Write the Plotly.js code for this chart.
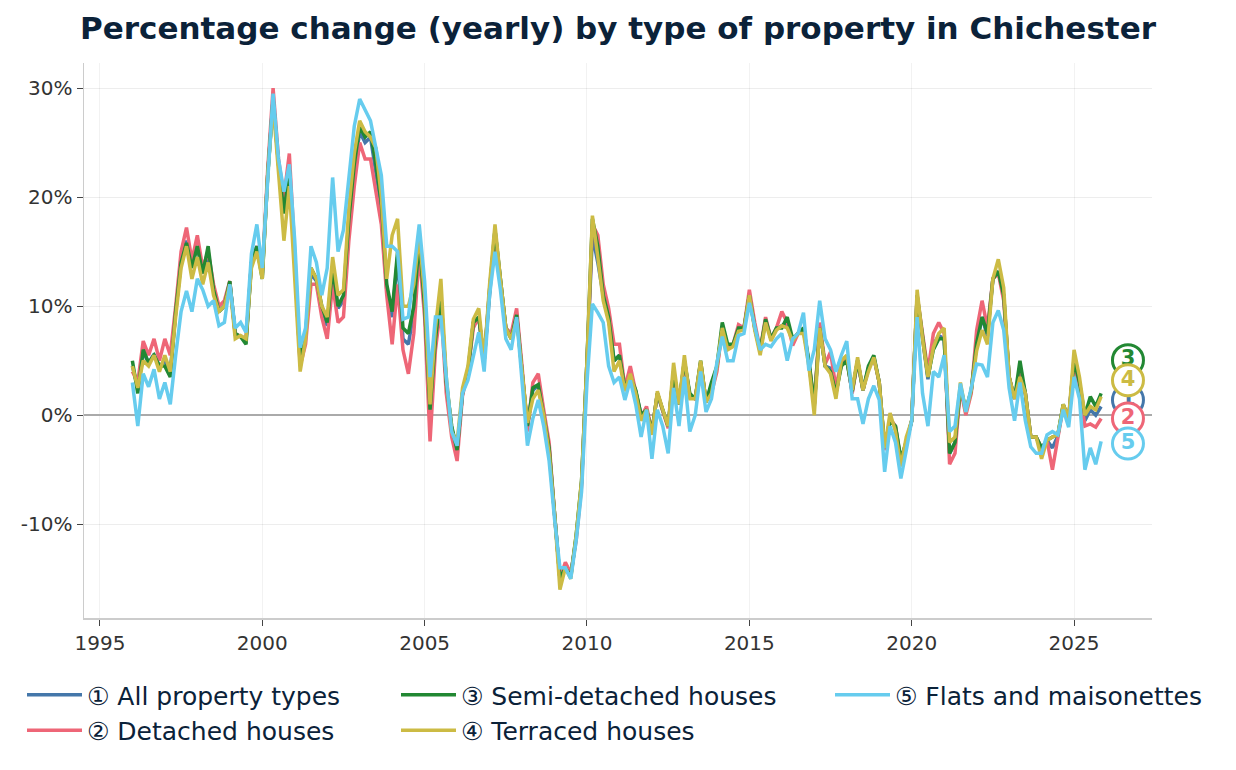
<!DOCTYPE html>
<html>
<head>
<meta charset="utf-8">
<script src="https://cdn.plot.ly/plotly-3.0.1.min.js"></script>
<style>
  html, body { margin: 0; padding: 0; background: #fff; }
  #chart { width: 1236px; height: 770px; }
</style>
</head>
<body>
<div id="chart"></div>
<script>
// Bimonthly readings, Jan 1996 onward (6 values per year), yearly % change
const allTypes = [
  4.5, 2.5, 5.8, 4.8, 5.6, 4.5,   5.0, 4.0, 9.5, 14.2, 16.0, 13.8,
  15.5, 13.0, 14.8, 11.5, 9.5, 10.0,   12.2, 7.4, 7.2, 6.8, 14.0, 15.5,
  12.8, 22.0, 29.0, 23.0, 19.0, 22.5,   14.0, 4.8, 7.3, 13.0, 12.3, 9.8,
  8.2, 13.2, 9.8, 10.5, 17.5, 22.5,   26.0, 25.0, 25.5, 22.0, 19.0, 11.5,
  9.0, 14.5, 7.0, 6.5, 9.5, 16.0,   10.0, 0.5, 7.0, 11.0, 3.0, -1.2,
  -3.2, 2.0, 4.0, 8.5, 9.0, 5.0,   11.5, 17.0, 12.5, 8.0, 7.2, 9.3,
  4.0, -1.0, 2.3, 2.7, 0.0, -3.0,   -9.0, -15.0, -14.0, -14.8, -11.2, -6.2,
  5.0, 16.5, 14.0, 11.0, 9.0, 5.0,   5.5, 2.5, 3.8, 2.2, 0.0, 0.5,
  -1.6, 2.0, 0.4, -1.0, 4.0, 1.0,   5.0, 1.8, 1.5, 4.8, 1.2, 2.8,
  4.3, 8.0, 6.2, 6.4, 8.0, 7.9,   11.0, 8.0, 5.8, 8.7, 7.0, 7.9,
  8.2, 8.5, 6.8, 7.5, 7.8, 4.8,   0.8, 8.0, 4.5, 4.3, 2.0, 4.7,
  5.1, 2.1, 5.0, 2.3, 4.3, 5.3,   3.0, -3.0, -0.3, -1.1, -4.2, -2.4,
  -0.5, 10.8, 7.0, 3.3, 6.5, 7.3,   7.0, -3.5, -2.5, 2.6, 0.3, 2.2,
  6.5, 9.0, 7.2, 12.5, 13.2, 11.0,   3.5, 1.5, 4.2, 2.0, -2.0, -2.0,
  -3.2, -2.3, -3.0, -1.9, 0.9, -0.3,   5.2, 2.5, -0.5, 0.5, 0.0, 0.8
];
const detached = [
  4.0, 3.0, 6.8, 5.5, 7.0, 5.0,   7.0, 5.5, 10.0, 15.0, 17.2, 14.2,
  16.5, 13.5, 15.0, 12.0, 10.0, 10.5,   12.3, 7.5, 7.2, 7.0, 14.0, 15.5,
  13.0, 22.5, 30.0, 23.5, 20.0, 24.0,   15.0, 4.5, 6.5, 12.0, 12.0, 9.0,
  7.0, 12.0, 8.5, 9.0, 16.0, 21.0,   25.0, 23.5, 23.5, 20.5, 17.5, 11.0,
  6.5, 12.0, 6.0, 3.8, 7.5, 15.0,   9.0, -2.4, 6.0, 10.0, 2.0, -2.0,
  -4.2, 1.8, 4.0, 8.0, 9.0, 5.0,   11.5, 16.5, 12.5, 8.0, 7.5, 9.8,
  4.5, -1.5, 3.0, 3.8, 0.5, -2.5,   -9.0, -15.0, -13.5, -14.5, -11.5, -6.5,
  4.5, 17.5, 16.5, 12.0, 9.8, 6.5,   6.5, 2.5, 4.5, 2.0, -0.2, 0.8,
  -1.5, 2.0, 0.3, -1.2, 4.0, 1.0,   4.8, 1.8, 1.5, 4.8, 1.3, 2.0,
  4.0, 8.0, 6.3, 6.5, 8.3, 8.0,   11.5, 8.5, 6.0, 9.0, 7.0, 8.0,
  9.5, 8.5, 6.4, 7.5, 8.0, 4.8,   1.0, 8.5, 4.7, 5.8, 2.5, 5.0,
  5.3, 2.0, 5.0, 2.3, 4.3, 5.3,   3.0, -3.2, -0.3, -1.0, -4.2, -2.5,
  -0.5, 11.0, 7.5, 4.0, 7.5, 8.5,   7.5, -4.5, -3.5, 2.5, 0.0, 2.0,
  7.8, 10.5, 8.0, 12.5, 13.0, 10.5,   3.5, 1.5, 4.0, 2.0, -2.0, -2.0,
  -3.0, -2.3, -5.0, -2.0, 0.8, -0.3,   5.0, 2.5, -1.0, -0.8, -1.1, -0.3
];
const semiDetached = [
  5.0, 2.0, 6.0, 4.8, 5.5, 4.5,   4.5, 3.5, 9.5, 14.0, 15.8, 13.5,
  15.5, 13.0, 15.5, 11.5, 9.5, 10.0,   12.3, 7.5, 7.2, 6.5, 14.0, 15.5,
  12.5, 22.0, 29.0, 23.0, 18.5, 22.5,   14.0, 5.0, 7.5, 13.5, 12.5, 10.0,
  8.5, 13.5, 10.0, 11.0, 18.0, 23.0,   26.5, 25.5, 26.0, 23.0, 19.5, 12.0,
  9.5, 15.0, 8.0, 7.5, 10.0, 16.0,   10.0, 0.5, 7.0, 11.0, 3.0, -1.0,
  -3.2, 2.0, 4.0, 8.5, 9.0, 5.0,   11.5, 17.0, 12.5, 8.0, 7.0, 9.2,
  4.0, -1.0, 2.5, 2.8, 0.0, -3.0,   -9.0, -15.0, -14.0, -14.8, -11.0, -6.0,
  5.0, 18.0, 15.5, 11.0, 9.0, 5.0,   5.5, 2.5, 3.5, 2.3, 0.0, 0.5,
  -1.5, 2.0, 0.5, -1.0, 4.0, 1.0,   5.0, 2.0, 1.5, 5.0, 1.2, 3.0,
  4.5, 8.5, 6.5, 6.5, 8.0, 8.0,   11.0, 8.0, 5.9, 8.8, 7.0, 8.0,
  8.0, 9.0, 7.0, 7.5, 8.0, 5.0,   1.0, 8.0, 4.5, 4.0, 2.0, 4.5,
  5.0, 2.2, 5.0, 2.3, 4.5, 5.5,   3.0, -3.0, -0.5, -1.0, -4.0, -2.5,
  -0.5, 11.0, 7.0, 3.5, 6.0, 7.0,   7.0, -3.5, -2.5, 2.6, 0.5, 2.3,
  6.6, 9.0, 7.5, 12.5, 13.2, 11.0,   3.5, 1.5, 5.0, 2.0, -2.0, -2.0,
  -3.0, -2.3, -2.0, -1.8, 1.0, -0.3,   5.0, 3.0, 0.0, 1.7, 0.8, 2.0
];
const terraced = [
  4.5, 2.5, 5.0, 4.5, 5.5, 4.0,   5.5, 4.0, 9.0, 13.5, 15.5, 12.5,
  14.5, 12.0, 14.0, 11.0, 9.5, 10.0,   12.0, 7.0, 7.3, 7.0, 13.5, 15.0,
  12.5, 22.0, 28.5, 22.5, 16.0, 21.0,   13.0, 4.0, 7.0, 13.5, 12.5, 10.0,
  9.0, 14.5, 11.0, 11.5, 19.0, 24.0,   27.0, 26.0, 25.5, 24.5, 20.0, 12.5,
  16.5, 18.0, 10.0, 10.0, 12.0, 16.5,   11.0, 1.0, 8.0, 12.5, 3.5, -1.5,
  -2.5, 2.5, 4.5, 8.8, 9.8, 5.0,   12.0, 17.5, 12.5, 8.0, 7.0, 8.8,
  4.0, -0.7, 1.5, 2.3, 0.0, -3.5,   -9.0, -16.0, -14.0, -15.0, -11.0, -6.0,
  5.0, 18.3, 14.5, 10.5, 8.5, 4.0,   5.0, 2.2, 3.8, 2.0, -0.5, 0.5,
  -1.8, 2.2, 0.5, -1.0, 4.8, 1.0,   5.5, 1.5, 1.5, 5.0, 1.2, 2.0,
  4.5, 8.0, 6.0, 6.3, 7.7, 7.8,   11.0, 7.8, 5.5, 8.5, 6.8, 7.8,
  8.2, 8.0, 6.8, 7.5, 7.5, 4.5,   0.0, 8.0, 4.5, 3.8, 1.5, 5.0,
  5.5, 2.3, 5.3, 2.3, 4.0, 5.3,   3.0, -3.0, 0.2, -1.5, -4.7, -2.0,
  -0.5, 11.5, 7.0, 3.5, 6.2, 7.5,   8.0, -2.5, -2.0, 3.0, 0.3, 2.3,
  5.9, 7.8, 6.5, 12.5, 14.3, 11.7,   3.5, 1.5, 3.5, 2.0, -2.0, -2.0,
  -4.0, -2.3, -2.0, -1.8, 1.0, -0.3,   6.0, 3.5, 0.0, 0.8, 0.5, 1.7
];
const flats = [
  3.0, -1.0, 3.8, 2.6, 4.2, 1.5,   3.0, 1.0, 5.5, 9.5, 11.4, 9.5,
  12.5, 11.5, 10.0, 10.5, 8.2, 8.5,   12.0, 8.0, 8.5, 7.6, 14.8, 17.5,
  13.5, 21.5, 29.5, 23.5, 20.5, 23.0,   16.0, 6.2, 8.0, 15.5, 14.0, 11.0,
  13.5, 21.8, 15.0, 17.0, 22.0, 26.5,   29.0, 28.0, 27.0, 24.5, 22.0, 15.5,
  15.5, 15.0, 8.8, 9.0, 13.0, 17.5,   12.3, 3.5, 9.0, 9.0, 3.5, -1.5,
  -2.8, 2.0, 3.2, 5.5, 7.6, 4.0,   11.0, 15.0, 11.5, 7.0, 6.0, 9.0,
  3.0, -2.8, -0.3, 1.4, -1.0, -4.2,   -9.5, -14.0, -14.0, -15.0, -11.5, -7.0,
  3.0, 10.2, 9.4, 8.5, 4.5, 3.0,   3.5, 1.4, 3.2, 1.0, -2.0, 0.5,
  -4.0, 0.5, -1.0, -3.5, 2.5, -1.0,   3.5, -1.5, 0.0, 4.0, 0.3, 1.5,
  4.8, 7.2, 5.0, 5.0, 7.3, 7.5,   10.3, 8.0, 6.0, 6.5, 6.3, 7.0,
  7.5, 5.0, 7.0, 7.5, 9.4, 4.1,   6.0, 10.5, 7.0, 6.0, 4.0, 5.5,
  6.8, 1.5, 1.5, -0.8, 1.5, 2.7,   1.4, -5.2, -1.0, -2.5, -5.8, -3.2,
  -0.5, 9.0, 2.0, -1.0, 4.0, 3.5,   5.5, -1.5, -1.0, 2.9, 0.3, 2.5,
  4.7, 4.6, 3.5, 8.5, 9.6, 7.8,   2.5, -0.5, 3.0, -0.5, -2.9, -3.5,
  -3.5, -1.8, -1.5, -1.8, 0.5, -1.1,   3.5, 1.5, -5.0, -3.0, -4.5, -2.4
];

const seriesNames = ['① All property types', '② Detached houses', '③ Semi-detached houses',
  '④ Terraced houses', '⑤ Flats and maisonettes'];
const seriesColors = ['#4477AA', '#EE6677', '#228833', '#CCBB44', '#66CCEE'];
const seriesLegends = ['legend', 'legend', 'legend2', 'legend2', 'legend3'];

// End-of-line badges (number, colour index, label position)
const badgeText = ['1', '3', '4', '2', '5'];
const badgeSeries = [0, 2, 3, 1, 4];
const badgeX = [2026.66, 2026.66, 2026.66, 2026.66, 2026.66];
const badgeY = [1.4, 5.05, 3.2, -0.3, -2.6];

const yTickVals = [-10, 0, 10, 20, 30];
const yTickText = ['-10%', '0%', '10%', '20%', '30%'];
const xTickVals = [1995, 2000, 2005, 2010, 2015, 2020, 2025];

const allSeries = [allTypes, detached, semiDetached, terraced, flats];
const when = allTypes.map((_, i) => 1996 + i / 6);

const FONT = 'DejaVu Sans, Verdana, sans-serif';
const traces = allSeries.map((vals, i) => ({
  x: when, y: vals, type: 'scatter', mode: 'lines',
  name: seriesNames[i], legend: seriesLegends[i],
  line: { color: seriesColors[i], width: 3.5 },
  hoverinfo: 'skip'
}));

badgeText.forEach((t, j) => {
  const c = seriesColors[badgeSeries[j]];
  traces.push({
    x: [badgeX[j]], y: [badgeY[j]], type: 'scatter', mode: 'markers+text',
    text: [t], textposition: 'middle center',
    textfont: { family: FONT, size: 21, color: c, weight: 'bold' },
    marker: { size: 31, color: '#ffffff', line: { color: c, width: 3 } },
    showlegend: false, hoverinfo: 'skip', cliponaxis: false
  });
});

const legendBase = {
  orientation: 'v', xref: 'container', yref: 'container', yanchor: 'top', xanchor: 'left',
  y: 1 - 672 / 770, font: { family: FONT, size: 25, color: '#0b2239' },
  bgcolor: 'rgba(0,0,0,0)', itemwidth: 55, tracegroupgap: 0
};

const layout = {
  width: 1236, height: 770,
  margin: { l: 84, r: 84, t: 63, b: 152, autoexpand: false },
  paper_bgcolor: '#ffffff', plot_bgcolor: '#ffffff',
  font: { family: FONT, color: '#333333', size: 20 },
  title: {
    text: '<b>Percentage change (yearly) by type of property in Chichester</b>',
    font: { family: FONT, size: 31, color: '#0b2239' },
    x: 0.5, xanchor: 'center', xref: 'container',
    y: 1 - 28 / 770, yanchor: 'middle', yref: 'container'
  },
  xaxis: {
    range: [1994.51, 2027.4], tickvals: xTickVals, ticktext: xTickVals.map(String),
    showgrid: true, gridcolor: 'rgba(0,0,0,0.05)', gridwidth: 1,
    zeroline: false, showline: true, linecolor: '#cccccc', linewidth: 1.5,
    ticks: 'outside', ticklen: 6, tickcolor: '#444444',
    tickfont: { family: FONT, size: 20, color: '#333333' }
  },
  yaxis: {
    range: [-18.6, 32.3], tickvals: yTickVals, ticktext: yTickText,
    showgrid: true, gridcolor: 'rgba(0,0,0,0.07)', gridwidth: 1,
    zeroline: true, zerolinecolor: '#aaaaaa', zerolinewidth: 2,
    showline: true, linecolor: '#cccccc', linewidth: 1.5,
    ticks: 'outside', ticklen: 6, tickcolor: '#444444',
    tickfont: { family: FONT, size: 20, color: '#333333' }
  },
  legend: Object.assign({}, legendBase, { x: 22 / 1236 }),
  legend2: Object.assign({}, legendBase, { x: 396 / 1236 }),
  legend3: Object.assign({}, legendBase, { x: 830 / 1236 }),
  hovermode: false
};

Plotly.newPlot('chart', traces, layout, { displayModeBar: false, staticPlot: true });
</script>
</body>
</html>
